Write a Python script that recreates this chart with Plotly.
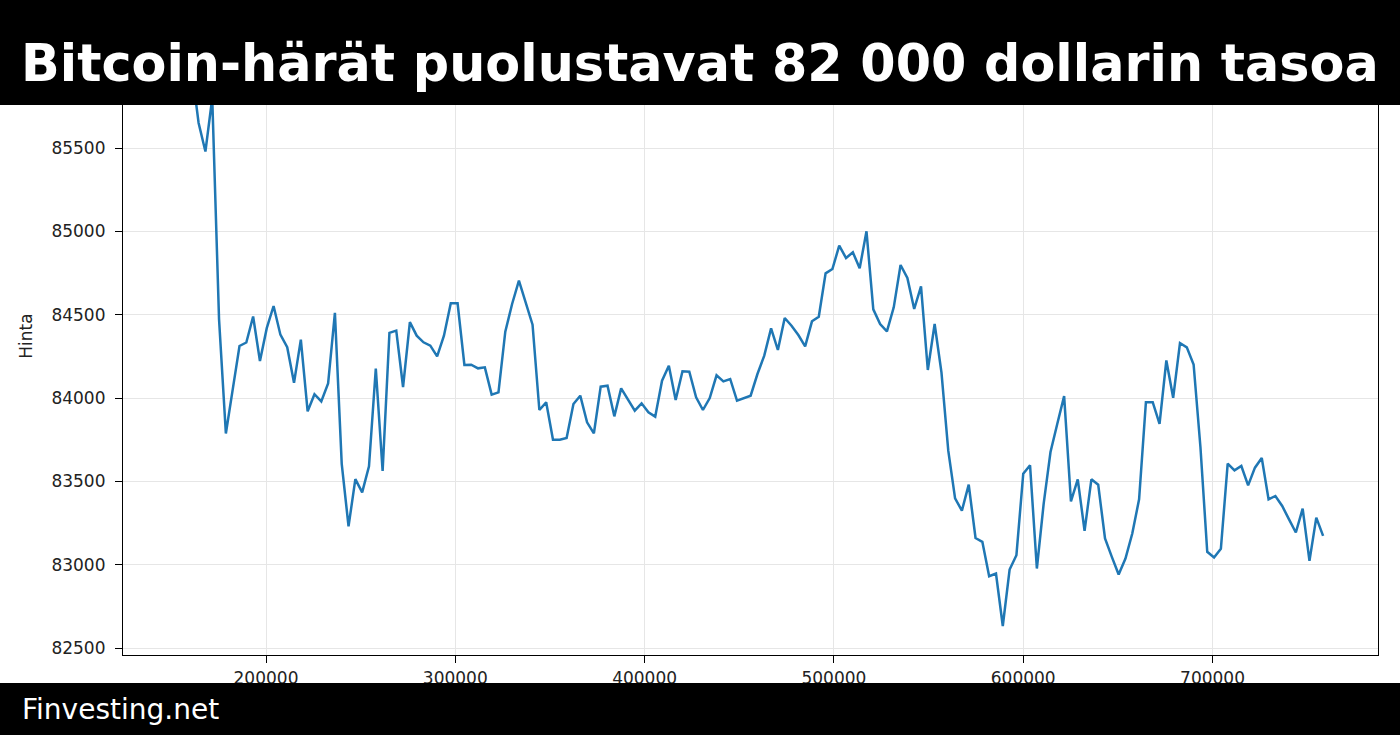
import plotly.graph_objects as go

# hourly steps, seconds-like x index
x_start = 153600
x_step = 3600

prices = [
    86110, 86050, 85970, 85650, 85479, 85800, 84472, 83787, 84050, 84312,
    84333, 84489, 84222, 84419, 84552, 84380, 84305, 84091, 84350, 83920,
    84023, 83980, 84087, 84511, 83605, 83230, 83513, 83434, 83590, 84177,
    83562, 84391, 84404, 84066, 84455, 84374, 84334, 84314, 84250, 84374,
    84568, 84568, 84198, 84200, 84178, 84184, 84020, 84034, 84398, 84564,
    84704, 84574, 84440, 83928, 83974, 83750, 83750, 83760, 83964, 84014,
    83854, 83788, 84068, 84074, 83890, 84058, 83994, 83924, 83968, 83914,
    83888, 84104, 84194, 83988, 84160, 84158, 84004, 83928, 84000, 84136,
    84100, 84114, 83984, 83998, 84014, 84144, 84254, 84418, 84288, 84480,
    84434, 84378, 84310, 84460, 84488, 84748, 84774, 84914, 84840, 84874,
    84778, 85000, 84532, 84444, 84400, 84544, 84798, 84720, 84534, 84670,
    84168, 84444, 84154, 83684, 83398, 83324, 83480, 83160, 83137, 82931,
    82947, 82632, 82971, 83057, 83546, 83596, 82977, 83366, 83676, 83845,
    84011, 83380, 83512, 83203, 83512, 83480, 83157, 83047, 82941, 83037,
    83187, 83392, 83975, 83975, 83845, 84225, 84001, 84330, 84304, 84201,
    83706, 83077, 83043, 83095, 83606, 83566, 83592, 83476, 83582, 83640,
    83392, 83412, 83352, 83272, 83193, 83336, 83023, 83282, 83173,
]
times = [x_start + i * x_step for i in range(len(prices))]

title = "Bitcoin-härät puolustavat 82 000 dollarin tasoa"
footer = "Finvesting.net"

fig = go.Figure()
fig.add_trace(go.Scatter(x=times, y=prices, mode="lines",
                         line=dict(color="#1f77b4", width=2.5)))

axis_common = dict(showline=True, linecolor="black", linewidth=1.2, mirror=True,
                   ticks="outside", ticklen=7, tickcolor="black",
                   showgrid=True, gridcolor="#e6e6e6", zeroline=False,
                   tickfont=dict(size=17, color="#222222"))

fig.update_layout(
    width=1400, height=735,
    margin=dict(l=123, r=22, t=17, b=80),
    plot_bgcolor="white", paper_bgcolor="white",
    font=dict(family="DejaVu Sans"),
    showlegend=False,
    xaxis=dict(range=[124460, 787400], tickvals=[200000, 300000, 400000, 500000, 600000, 700000],
               ticktext=["200000", "300000", "400000", "500000", "600000", "700000"],
               ticklabelstandoff=0, **axis_common),
    yaxis=dict(range=[82458, 86286], tickvals=[82500, 83000, 83500, 84000, 84500, 85000, 85500],
               ticktext=["82500", "83000", "83500", "84000", "84500", "85000", "85500"],
               title=dict(text="Hinta", font=dict(size=17, color="#222222"), standoff=14),
               ticklabelstandoff=6, **axis_common),
    shapes=[
        dict(type="rect", xref="paper", yref="paper", x0=-0.2, x1=1.1,
             y0=0.862, y1=1.05, fillcolor="black", line=dict(width=0), layer="above"),
        dict(type="rect", xref="paper", yref="paper", x0=-0.2, x1=1.1,
             y0=-0.14, y1=-0.0439, fillcolor="black", line=dict(width=0), layer="above"),
    ],
    annotations=[
        dict(text="<b>" + title + "</b>", xref="paper", yref="paper",
             x=(700 - 123) / 1255, y=(655 - 63) / 638, xanchor="center", yanchor="middle",
             showarrow=False, font=dict(size=50.8, color="white", family="DejaVu Sans")),
        dict(text=footer, xref="paper", yref="paper",
             x=(20 - 123) / 1255, y=(655 - 709) / 638, xanchor="left", yanchor="middle",
             showarrow=False, font=dict(size=28, color="white", family="DejaVu Sans")),
    ],
)

fig.write_html("out.html", config={"displayModeBar": False},
               post_script="document.body.style.margin='0';")
